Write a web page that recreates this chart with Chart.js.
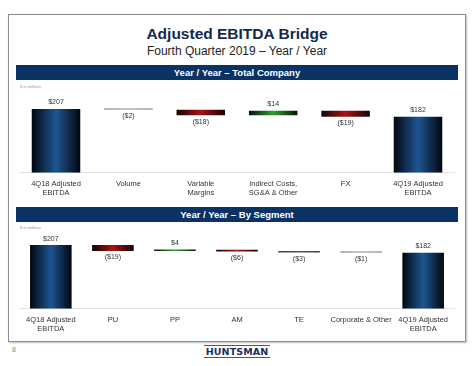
<!DOCTYPE html>
<html>
<head>
<meta charset="utf-8">
<script src="https://cdn.jsdelivr.net/npm/chart.js@4.4.1/dist/chart.umd.min.js"></script>
<style>
  html, body { margin: 0; padding: 0; background: #fff; width: 474px; height: 366px; overflow: hidden; font-family: "Liberation Sans", Arial, sans-serif; }
  .frame { position: absolute; left: 8px; top: 14px; width: 456px; height: 326px; border: 1px solid #8c8c8c; box-shadow: 1px 1px 2px rgba(0,0,0,0.25); }
  .title { position: absolute; left: 0; width: 474px; top: 25px; text-align: center; font-weight: bold; font-size: 15.5px; color: #13294b; }
  .subtitle { position: absolute; left: 0; width: 474px; top: 44px; text-align: center; font-size: 12px; color: #222; }
  .hdr { position: absolute; left: 16px; width: 442px; height: 15px; background: #0b3264; color: #fff; font-weight: bold; font-size: 9.5px; text-align: center; line-height: 15px; }
  .unit { position: absolute; left: 20px; font-size: 4px; color: #999; }
  .cv { position: absolute; left: 16px; width: 442px; }
  .pg { position: absolute; left: 12px; top: 346px; font-size: 7px; color: #8a8a8a; }
  .logo { position: absolute; left: 204px; top: 345px; width: 66px; height: 11px; border-top: 1.5px solid #c4262e; border-bottom: 1.5px solid #c4262e; text-align: center; font-weight: 900; font-size: 9.5px; line-height: 11px; color: #1d2d5c; letter-spacing: 0.1px; font-family: "DejaVu Sans", Arial, sans-serif; }
</style>
</head>
<body>
<div class="frame"></div>
<div class="title">Adjusted EBITDA Bridge</div>
<div class="subtitle">Fourth Quarter 2019 – Year / Year</div>
<div class="hdr" style="top:65px">Year / Year – Total Company</div>
<div class="unit" style="top:84px">$ in millions</div>
<div class="cv" style="top:82px;height:126px"><canvas id="c1"></canvas></div>
<div class="hdr" style="top:207px">Year / Year – By Segment</div>
<div class="unit" style="top:225px">$ in millions</div>
<div class="cv" style="top:224px;height:120px"><canvas id="c2"></canvas></div>
<div class="pg">8</div>
<div class="logo">HUNTSMAN</div>
<script>
// ---- Data ----
const categoriesTotal = [["4Q18 Adjusted", "EBITDA"], "Volume", ["Variable", "Margins"], ["Indirect Costs,", "SG&A & Other"], "FX", ["4Q19 Adjusted", "EBITDA"]];
const valuesTotal = [207, -2, -18, 14, -19, 182];
const isTotalTotal = [true, false, false, false, false, true];

const categoriesSegment = [["4Q18 Adjusted", "EBITDA"], "PU", "PP", "AM", "TE", "Corporate & Other", ["4Q19 Adjusted", "EBITDA"]];
const valuesSegment = [207, -19, 4, -6, -3, -1, 182];
const isTotalSegment = [true, false, false, false, false, false, true];

function fmt(v) { return v < 0 ? "($" + Math.abs(v) + ")" : "$" + v; }

function floating(values, totals) {
  let run = 0;
  return values.map((v, i) => {
    if (totals[i]) { run = v; return [0, v]; }
    const s = run; run += v; return [s, run];
  });
}

function gradFill(ctx, chart, kind) {
  const xs = chart.scales && chart.scales.x;
  const v = ctx.dataIndex;
  if (!xs || !chart.chartArea) return "#123";
  const c = xs.getPixelForValue(v);
  const w = (xs.width / xs.ticks.length) * 0.67;
  const g = chart.ctx.createLinearGradient(c - w / 2, 0, c + w / 2, 0);
  let edge, mid;
  if (kind === "total") { edge = "#02070f"; mid = "#1e5592"; }
  else if (kind === "pos") { edge = "#061206"; mid = "#2fa02f"; }
  else if (kind === "grey") { edge = "#9a9a9a"; mid = "#b5b5b5"; }
  else if (kind === "dgrey") { edge = "#4a3a3a"; mid = "#6a5050"; }
  else { edge = "#160303"; mid = "#a51515"; }
  g.addColorStop(0, edge); g.addColorStop(0.5, mid); g.addColorStop(1, edge);
  return g;
}

const labelPlugin = {
  id: "vlabels",
  afterDatasetsDraw(chart) {
    const ctx = chart.ctx;
    const meta = chart.getDatasetMeta(0);
    const vals = chart.options.plugins.vlabels.values;
    ctx.save();
    ctx.font = "7px 'Liberation Sans', Arial, sans-serif";
    ctx.fillStyle = "#333";
    ctx.textAlign = "center";
    meta.data.forEach((bar, i) => {
      const v = vals[i];
      const top = Math.min(bar.y, bar.base), bot = Math.max(bar.y, bar.base);
      if (v >= 0) { ctx.textBaseline = "bottom"; ctx.fillText(fmt(v), bar.x, top - 3); }
      else { ctx.textBaseline = "top"; ctx.fillText(fmt(v), bar.x, Math.max(bot, top + 1.5) + 3); }
    });
    ctx.restore();
  }
};

function makeChart(id, cats, vals, totals, kinds, topPad, ymax) {
  return new Chart(document.getElementById(id), {
    type: "bar",
    data: {
      labels: cats,
      datasets: [{
        data: floating(vals, totals),
        backgroundColor: (ctx) => gradFill(ctx, ctx.chart, kinds[ctx.dataIndex]),
        borderWidth: 0,
        borderSkipped: false,
        minBarLength: 1.5,
        categoryPercentage: 1,
        barPercentage: 0.67
      }]
    },
    options: {
      responsive: true,
      maintainAspectRatio: false,
      animation: false,
      layout: { padding: { left: 3.8, right: 3.8, top: topPad, bottom: 4 } },
      plugins: { legend: { display: false }, tooltip: { enabled: false }, vlabels: { values: vals } },
      scales: {
        y: { display: false, min: 0, max: ymax },
        x: {
          grid: { display: false, drawTicks: false },
          border: { display: true, color: "#e4e4e4", width: 1 },
          ticks: { color: "#333", font: { size: 7.5, family: "'Liberation Sans', Arial, sans-serif", lineHeight: 1.15 }, padding: 7, maxRotation: 0, autoSkip: false }
        }
      }
    },
    plugins: [labelPlugin]
  });
}

function kindsFor(vals, totals) {
  return vals.map((v, i) => totals[i] ? "total" : (Math.abs(v) <= 2 ? "grey" : (v > 0 ? "pos" : (v === -3 ? "dgrey" : "neg"))));
}

makeChart("c1", categoriesTotal, valuesTotal, isTotalTotal, kindsFor(valuesTotal, isTotalTotal), 15, 246);
makeChart("c2", categoriesSegment, valuesSegment, isTotalSegment, kindsFor(valuesSegment, isTotalSegment), 12, 236.6);
</script>
</body>
</html>
